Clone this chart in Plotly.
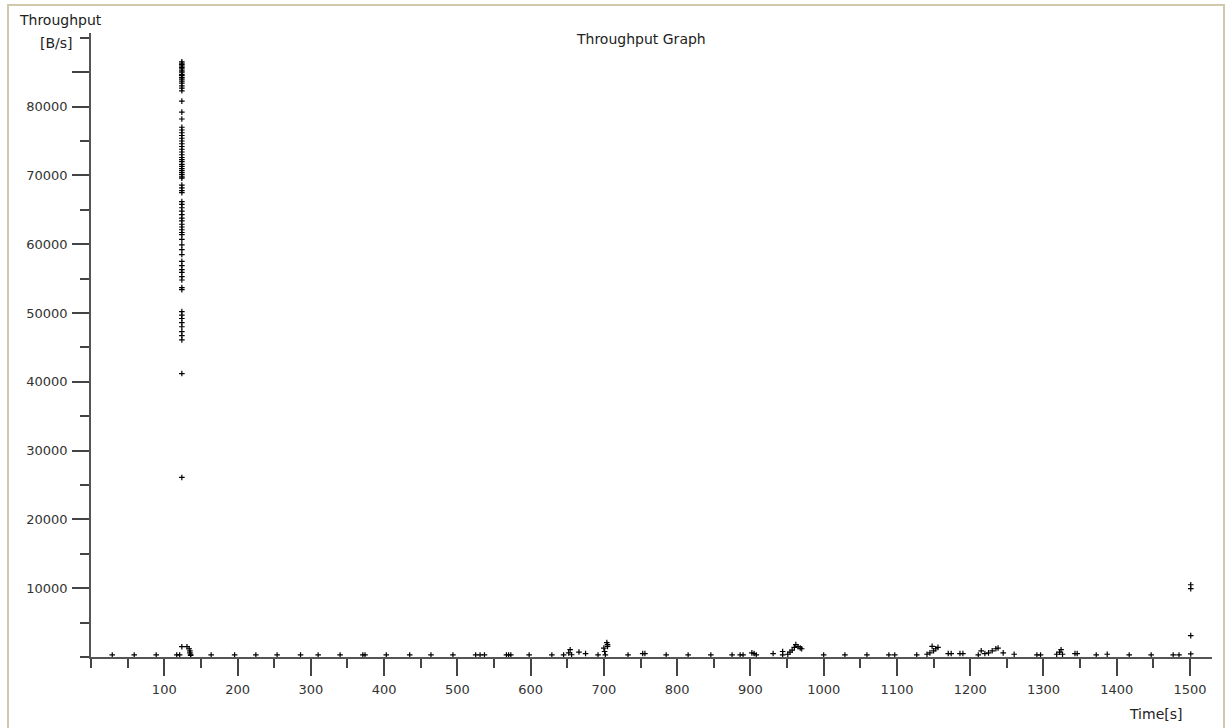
import plotly.graph_objects as go

# ---- data ----
burst_time = [124] * 80
burst_rate = [86500, 86300, 86100, 85900, 85700, 85500, 85200, 85000, 84700, 84500,
              84200, 84000, 83700, 83400, 83000, 82700, 82300, 80800, 79200, 78200,
              77000, 76600, 76200, 75800, 75400, 75000, 74600, 74200, 73800, 73400,
              73000, 72600, 72300, 72000, 71600, 71300, 71000, 70700, 70400, 70100,
              69800, 69600, 68600, 68200, 67800, 67500, 66200, 65800, 65300, 64800,
              64300, 63800, 63400, 62900, 62500, 62100, 61700, 61400, 60700, 59900,
              59200, 58500, 57500, 56900, 56300, 55900, 55300, 54800, 53700, 53400,
              50200, 49700, 49200, 48600, 48000, 47300, 46700, 46100, 41200, 26100]

low_time = [29, 59, 89, 117, 121, 124, 131, 134, 135, 135, 136, 136, 164, 196, 225, 254,
            286, 310, 340, 371, 374, 403, 435, 464, 494, 525, 531, 537, 567, 570, 573,
            598, 629, 645, 652, 654, 656, 666, 675, 692, 700, 701, 702, 704, 705, 705,
            733, 753, 756, 785, 815, 846, 875, 886, 890, 902, 905, 908, 931, 944, 944,
            951, 954, 957, 960, 962, 965, 968, 970, 1000, 1029, 1059, 1089, 1097, 1127,
            1141, 1145, 1148, 1150, 1153, 1156, 1170, 1174, 1186, 1190, 1211, 1215,
            1220, 1225, 1230, 1235, 1238, 1245, 1260, 1291, 1296, 1318, 1322, 1324,
            1326, 1343, 1346, 1372, 1387, 1417, 1447, 1477, 1485, 1501, 1501, 1501, 1501]
low_rate = [300, 300, 300, 300, 300, 1500, 1500, 1200, 900, 600, 400, 250, 300, 300, 300, 300,
            300, 300, 300, 300, 300, 300, 300, 300, 300, 300, 300, 300, 300, 300, 300,
            300, 300, 300, 600, 1060, 330, 720, 500, 300, 1300, 800, 300, 2100, 1800, 1540,
            300, 500, 500, 300, 300, 300, 300, 300, 300, 600, 500, 300, 500, 800, 300,
            400, 700, 1000, 1400, 1800, 1500, 1300, 1200, 300, 300, 300, 300, 300, 300,
            400, 600, 1540, 900, 1200, 1400, 500, 500, 500, 500, 300, 900,
            500, 600, 900, 1200, 1300, 600, 400, 300, 300, 400, 700, 1060,
            400, 500, 500, 300, 400, 300, 300, 300, 300, 10500, 9930, 3100, 440]

x_ticks = list(range(100, 1600, 100))
y_ticks = [10000, 20000, 30000, 40000, 50000, 60000, 70000, 80000, 85000]
y_ticktext = ["10000", "20000", "30000", "40000", "50000", "60000", "70000", "80000", ""]

# ---- layout geometry (pixels) ----
W, H = 1229, 728
ML, MR, MT, MB = 91, 17, 33, 71
PW, PH = W - ML - MR, H - MT - MB


def px(xp):
    return (xp - ML) / PW


def py(yp):
    return (H - MB - yp) / PH


marker = dict(symbol="cross-thin", size=4, color="black",
              line=dict(color="black", width=1.2))

fig = go.Figure()
fig.add_trace(go.Scatter(x=burst_time, y=burst_rate, mode="markers", marker=marker,
                         showlegend=False, hoverinfo="x+y"))
fig.add_trace(go.Scatter(x=low_time, y=low_rate, mode="markers", marker=marker,
                         showlegend=False, hoverinfo="x+y"))

tickfont = dict(family="DejaVu Sans", size=13, color="#333333")
labelfont = dict(family="DejaVu Sans", size=14, color="#222222")
fig.update_layout(
    width=W, height=H,
    margin=dict(l=ML, r=MR, t=MT, b=MB, pad=0),
    paper_bgcolor="white", plot_bgcolor="white",
    font=dict(family="DejaVu Sans", size=13, color="#333333"),
    xaxis=dict(range=[0, 1530], showgrid=False, zeroline=False,
               showline=True, linecolor="#555555", linewidth=1.5,
               ticks="outside", ticklen=17, tickwidth=1.5, tickcolor="#444444",
               tickmode="array", tickvals=x_ticks, tickfont=tickfont,
               ticklabelstandoff=3,
               minor=dict(dtick=50, tick0=0, ticks="outside", ticklen=9,
                          tickwidth=1.5, tickcolor="#444444", showgrid=False)),
    yaxis=dict(range=[0, 90700], showgrid=False, zeroline=False,
               showline=True, linecolor="#555555", linewidth=1.5,
               ticks="outside", ticklen=17, tickwidth=1.5, tickcolor="#444444",
               tickmode="array", tickvals=y_ticks, ticktext=y_ticktext,
               tickfont=tickfont, ticklabelstandoff=2,
               minor=dict(dtick=5000, tick0=0, ticks="outside", ticklen=9,
                          tickwidth=1.5, tickcolor="#444444", showgrid=False)),
    annotations=[
        dict(text="Throughput Graph", x=px(641), y=py(39), xref="paper", yref="paper",
             xanchor="center", yanchor="middle", showarrow=False, font=labelfont),
        dict(text="Throughput", x=px(17), y=py(20), xref="paper", yref="paper",
             xanchor="left", yanchor="middle", showarrow=False, font=labelfont),
        dict(text="[B/s]", x=px(75), y=py(43), xref="paper", yref="paper",
             xanchor="right", yanchor="middle", showarrow=False, font=labelfont),
        dict(text="Time[s]", x=px(1184), y=py(714), xref="paper", yref="paper",
             xanchor="right", yanchor="middle", showarrow=False, font=labelfont),
    ],
    shapes=[
        dict(type="rect", xref="paper", yref="paper",
             x0=px(8), x1=px(1224), y0=py(760), y1=py(5),
             line=dict(color="#d2c9ac", width=2), fillcolor="rgba(0,0,0,0)",
             layer="below"),
    ],
)

fig.write_html("out.html")
